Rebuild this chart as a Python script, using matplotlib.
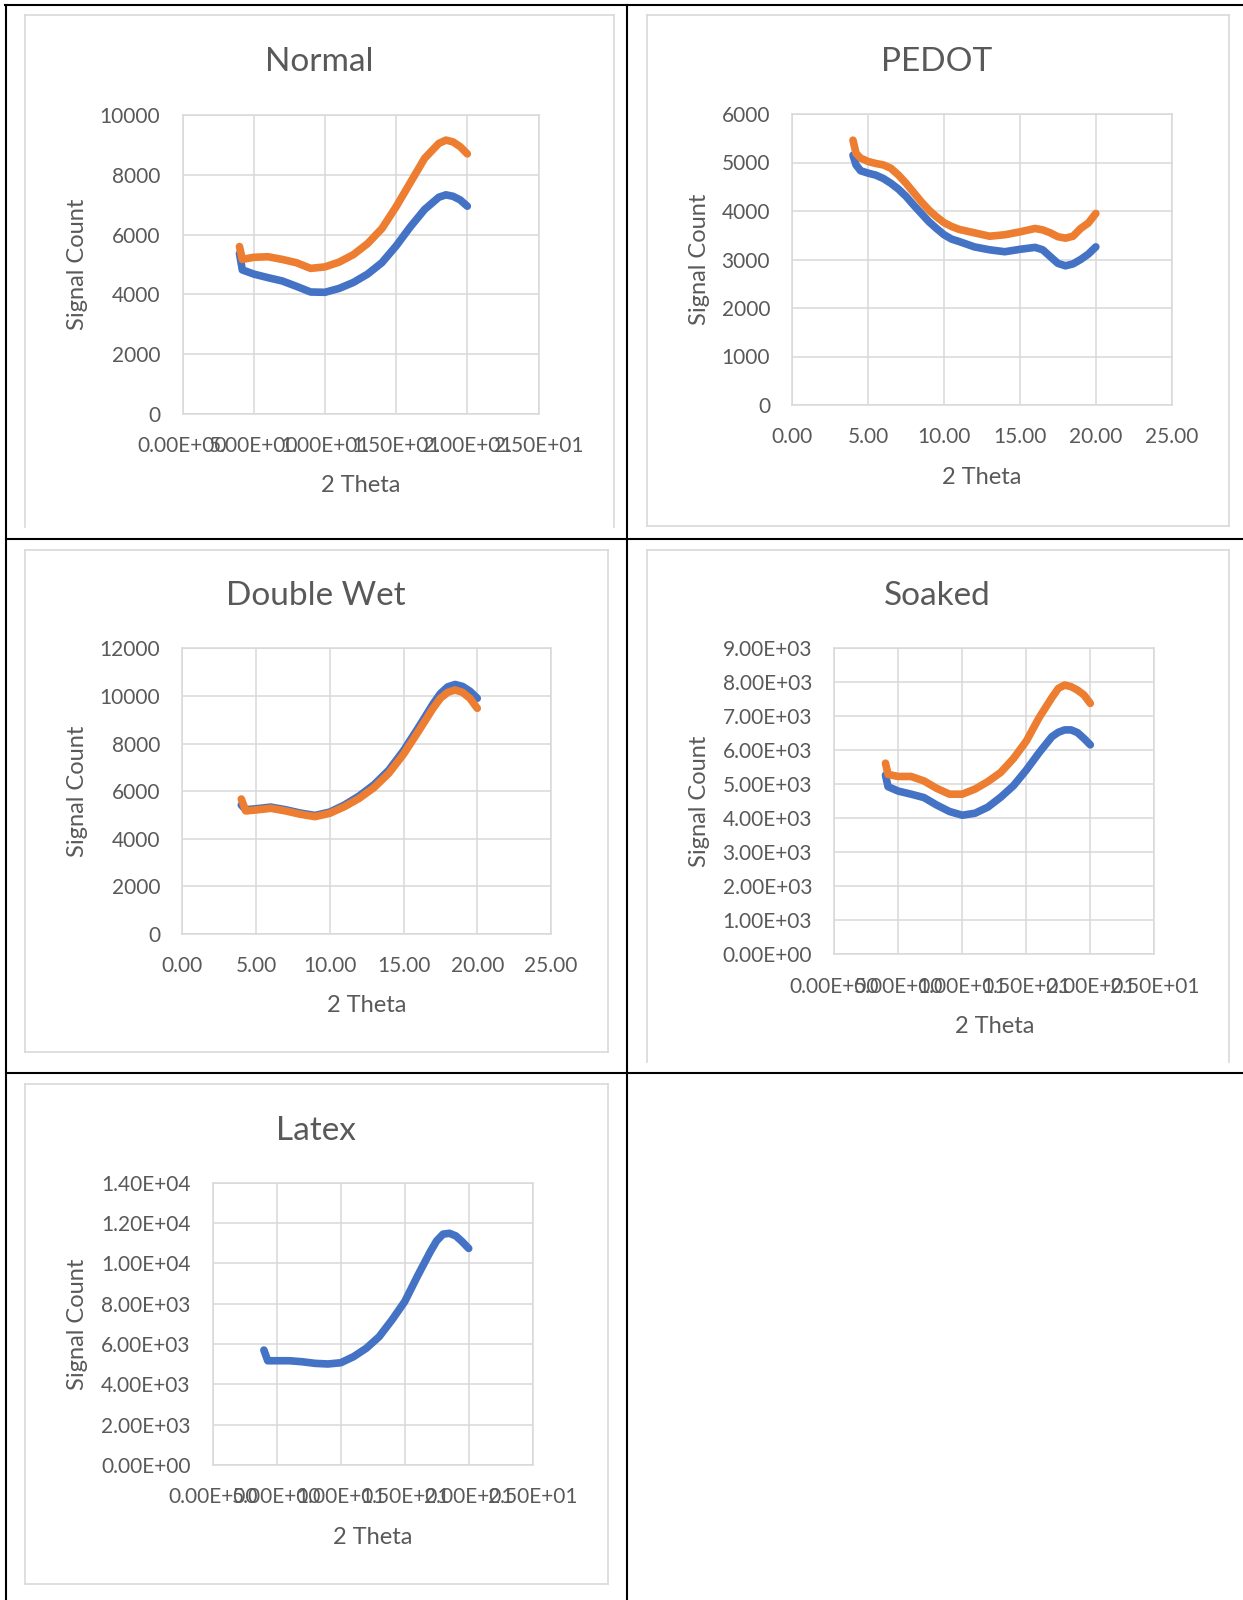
import matplotlib
matplotlib.use('Agg')
import matplotlib.pyplot as plt
from matplotlib.lines import Line2D
from matplotlib.ticker import FormatStrFormatter, MultipleLocator

plt.rcParams['font.family'] = ['Lato', 'DejaVu Sans']

# XRD scans, 2 theta vs signal count
normal_x = [4.0, 4.2, 5, 6, 7, 8, 9, 10, 11, 12, 13, 14, 15, 16, 17, 18, 18.5, 19, 19.5, 20]
normal_blue = [5370, 4820, 4680, 4560, 4450, 4270, 4080, 4070, 4200, 4400, 4680, 5060, 5620,
               6260, 6840, 7250, 7330, 7280, 7160, 6950]
normal_orange = [5600, 5170, 5240, 5260, 5170, 5060, 4870, 4920, 5080, 5330, 5700, 6200, 6930,
                 7740, 8550, 9050, 9160, 9100, 8940, 8700]

pedot_x = [4.0, 4.2, 4.5, 5, 5.5, 6, 6.5, 7, 7.5, 8, 8.5, 9, 9.5, 10, 10.5, 11, 12, 13, 14,
           15, 16, 16.5, 17, 17.5, 18, 18.5, 19, 19.5, 20]
pedot_blue = [5150, 4950, 4830, 4780, 4740, 4670, 4570, 4450, 4300, 4120, 3950, 3780, 3640,
              3510, 3420, 3370, 3260, 3200, 3160, 3210, 3250, 3200, 3060, 2920, 2870, 2910,
              3000, 3110, 3260]
pedot_orange = [5460, 5190, 5090, 5020, 4980, 4950, 4880, 4740, 4570, 4380, 4190, 4020, 3880,
                3760, 3680, 3620, 3550, 3480, 3510, 3570, 3640, 3610, 3550, 3470, 3440, 3480,
                3640, 3750, 3950]

dwet_x = [4.0, 4.3, 5, 6, 7, 8, 9, 10, 11, 12, 13, 14, 15, 16, 17, 17.5, 18, 18.5, 19, 19.5, 20]
dwet_blue = [5420, 5220, 5260, 5330, 5220, 5080, 4980, 5120, 5420, 5800, 6270, 6880, 7700,
             8660, 9660, 10100, 10380, 10480, 10400, 10200, 9900]
dwet_orange = [5670, 5170, 5210, 5280, 5170, 5030, 4930, 5070, 5350, 5700, 6150, 6750, 7550,
               8500, 9480, 9900, 10150, 10250, 10150, 9900, 9480]

soaked_x = [4.0, 4.2, 5, 6, 7, 8, 9, 10, 11, 12, 13, 14, 15, 16, 17, 17.5, 18, 18.5, 19, 19.5, 20]
soaked_blue = [5270, 4930, 4800, 4710, 4610, 4390, 4200, 4090, 4150, 4330, 4620, 4960, 5420,
               5930, 6400, 6530, 6600, 6600, 6520, 6350, 6160]
soaked_orange = [5620, 5290, 5230, 5230, 5100, 4880, 4710, 4710, 4860, 5080, 5350, 5760, 6270,
                 6960, 7550, 7820, 7920, 7870, 7770, 7630, 7380]

latex_x = [4.0, 4.3, 5, 6, 7, 8, 9, 10, 11, 12, 13, 14, 15, 16, 17, 17.5, 18, 18.5, 19, 19.5, 20]
latex_blue = [5700, 5170, 5170, 5170, 5120, 5040, 5010, 5070, 5370, 5790, 6360, 7190, 8100,
              9370, 10580, 11120, 11450, 11490, 11360, 11070, 10740]

W, H = 1243, 1600
BLUE = '#4472C4'
ORANGE = '#ED7D31'
TXT = '#595959'
GRID = '#D9D9D9'

fig = plt.figure(figsize=(W / 100, H / 100), dpi=100)


def fx(x):
    return x / W


def fy(y):
    return 1 - y / H


def hline(y, x0, x1, color='black', lw=1.5):
    fig.add_artist(Line2D([fx(x0), fx(x1)], [fy(y), fy(y)], color=color, lw=lw))


def vline(x, y0, y1, color='black', lw=1.5):
    fig.add_artist(Line2D([fx(x), fx(x)], [fy(y0), fy(y1)], color=color, lw=lw))


def chart_frame(x0, y0, x1, y1, closed=True):
    vline(x0, y0, y1, GRID, 1.2)
    vline(x1, y0, y1, GRID, 1.2)
    hline(y0, x0, x1, GRID, 1.2)
    if closed:
        hline(y1, x0, x1, GRID, 1.2)


def panel(box, x, series, ymax, ystep, xfmt, yfmt):
    x0, y0, x1, y1 = box
    ax = fig.add_axes([fx(x0), fy(y1), (x1 - x0) / W, (y1 - y0) / H])
    for ys, c in series:
        ax.plot(x, ys, color=c, lw=5.5, solid_capstyle='round', solid_joinstyle='round')
    ax.set_xlim(0, 25)
    ax.set_ylim(0, ymax)
    ax.xaxis.set_major_locator(MultipleLocator(5))
    ax.yaxis.set_major_locator(MultipleLocator(ystep))
    ax.xaxis.set_major_formatter(FormatStrFormatter(xfmt))
    ax.yaxis.set_major_formatter(FormatStrFormatter(yfmt))
    ax.grid(True, color=GRID, lw=1.1)
    ax.set_axisbelow(True)
    for s in ax.spines.values():
        s.set_color(GRID)
        s.set_linewidth(1.1)
    ax.tick_params(axis='x', length=0, pad=16, labelsize=15, labelcolor=TXT)
    ax.tick_params(axis='y', length=0, pad=16, labelsize=15, labelcolor=TXT)
    cx = (x0 + x1) / 2
    cy = (y0 + y1) / 2
    fig.text(fx(cx), fy(y1 + 72), '2 Theta', ha='center', va='center', fontsize=17, color=TXT)
    return ax, cx, cy


# table grid
hline(5, 5, W)
vline(6, 5, H)
vline(627, 5, H)
hline(539, 6, W)
hline(1073, 6, W)

# chart areas
chart_frame(25, 15, 614, 527, closed=False)
chart_frame(647, 15, 1229, 526)
chart_frame(25, 550, 608, 1052)
chart_frame(647, 550, 1229, 1062, closed=False)
chart_frame(25, 1084, 608, 1584)

panels = [
    ((182.5, 115, 538.5, 414), 'Normal', normal_x,
     [(normal_blue, BLUE), (normal_orange, ORANGE)], 10000, 2000, '%.2E', '%d', 62, 78),
    ((792.3, 114, 1171.7, 405), 'PEDOT', pedot_x,
     [(pedot_blue, BLUE), (pedot_orange, ORANGE)], 6000, 1000, '%.2f', '%d', 62, 699),
    ((182.3, 648.3, 551, 934), 'Double Wet', dwet_x,
     [(dwet_blue, BLUE), (dwet_orange, ORANGE)], 12000, 2000, '%.2f', '%d', 596, 78),
    ((834.3, 648.3, 1154.3, 954.3), 'Soaked', soaked_x,
     [(soaked_blue, BLUE), (soaked_orange, ORANGE)], 9000, 1000, '%.2E', '%.2E', 596, 699),
    ((212.7, 1182.7, 532.7, 1465), 'Latex', latex_x,
     [(latex_blue, BLUE)], 14000, 2000, '%.2E', '%.2E', 1131, 78),
]

title_x = {'Normal': 319, 'PEDOT': 937, 'Double Wet': 316, 'Soaked': 937, 'Latex': 316}

for box, title, x, series, ymax, ystep, xfmt, yfmt, ty, lx in panels:
    ax, cx, cy = panel(box, x, series, ymax, ystep, xfmt, yfmt)
    fig.text(fx(title_x[title]), fy(ty), title, ha='center', va='center', fontsize=24, color=TXT)
    fig.text(fx(lx), fy(cy), 'Signal Count', ha='center', va='center', rotation=90,
             fontsize=17, color=TXT)

fig.savefig('out.png', dpi=100, facecolor='white')
